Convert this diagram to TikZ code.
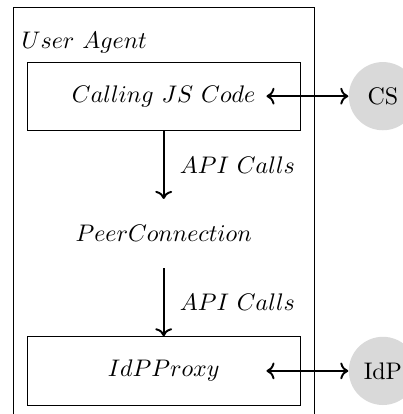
\documentclass[tikz,border=0pt]{standalone}
\usepackage{amsmath,amssymb}
\usepackage{tikz}
\usetikzlibrary{positioning, arrows.meta}

\begin{document}
\begin{tikzpicture}[
        node distance=1cm and 0.7cm,
        box/.style={rectangle, minimum width=4cm, minimum height=1cm, text centered, draw=black},
        plain/.style={rectangle, minimum width=4cm, minimum height=1cm, text centered},
        party/.style={circle, minimum size=1cm, fill=gray!30},
        arrow/.style={thick,->},
        twoway/.style={thick,<->}
    ]
    \useasboundingbox (-2.40,-4.66) rectangle (3.50,1.41);

    % Nodes
    \node (js) [box] {$Calling\ JS\ Code$};
    \node (peer) [plain, below=of js] {$PeerConnection$};
    \node (proxy) [box, below=of peer] {$IdPProxy$};
    \node (cs) [party, right=of js] {CS};
    \node (idp) [party, right=of proxy] {IdP};
    \node (ua) [above right] at ([xshift=-0.2cm]js.north west) {$User\ Agent$};

    % User agent frame (open at the bottom of the page)
    \coordinate (ua-sw) at ([xshift=-0.2cm, yshift=-0.16cm]proxy.south west);
    \coordinate (ua-ne) at ([xshift=0.2cm, yshift=0.8cm]js.north east);
    \coordinate (ua-se) at ([xshift=0.2cm, yshift=-0.16cm]proxy.south east);
    \draw (ua-sw) |- (ua-ne) -- (ua-se);

    % Arrows
    \coordinate (js-port) at ([xshift=-0.5cm]js.east);
    \coordinate (proxy-port) at ([xshift=-0.5cm]proxy.east);
    \draw [arrow] (js) -- node[midway, right=3pt] {$API\ Calls$} (peer);
    \draw [arrow] (peer) -- node[midway, right=3pt] {$API\ Calls$} (proxy);
    \draw [twoway] (js-port) -- (cs);
    \draw [twoway] (proxy-port) -- (idp);

\end{tikzpicture}
\end{document}
